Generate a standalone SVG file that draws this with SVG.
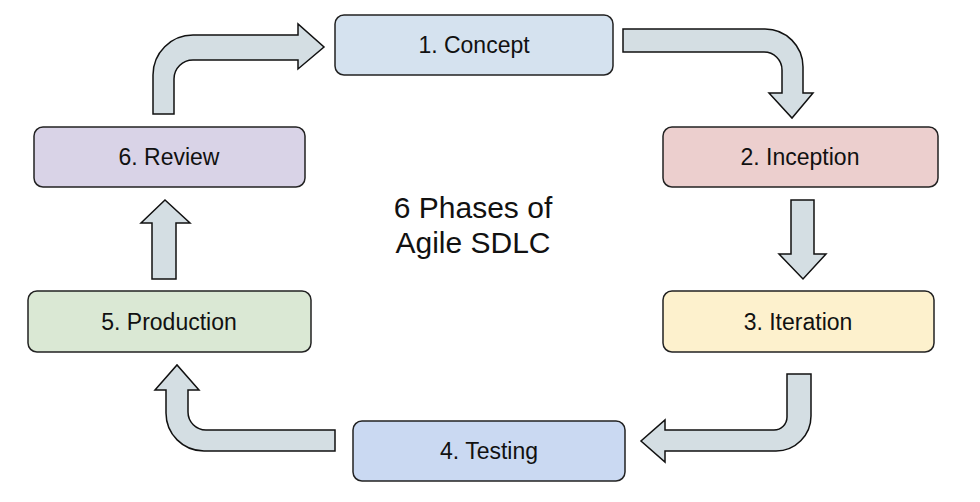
<svg xmlns="http://www.w3.org/2000/svg" width="980" height="502" viewBox="0 0 980 502">
<style>
.box{stroke:#222;stroke-width:1.5}
.lbl{font-family:"Liberation Sans",Arial,sans-serif;font-size:23px;fill:#111;text-anchor:middle}
.arr{fill:#d4dee3;stroke:#111;stroke-width:1.5;stroke-linejoin:miter}
.title{font-family:"Liberation Sans",Arial,sans-serif;font-size:30px;fill:#111;text-anchor:middle}
</style>
<rect width="980" height="502" fill="#fff"/>
<g id="connectors">
<path class="arr" d="M153,114 L153,75 A40,40 0 0 1 193,35 L298,35 L298,24 L324,47 L298,69 L298,60 L193,60 A19,19 0 0 0 174,79 L174,114 Z"/>
<path class="arr" d="M623,29 L765,29 A38,38 0 0 1 803,67 L803,93 L813,93 L792,118 L769,93 L782,93 L782,70 A18,18 0 0 0 764,52 L623,52 Z"/>
<path class="arr" d="M791,200 L814,200 L814,254 L826,254 L803,279 L779,254 L791,254 Z"/>
<path class="arr" d="M787,374 L811,374 L811,416 A35,35 0 0 1 776,451 L665,451 L665,462 L641,441 L665,420 L665,430 L774,430 A13,13 0 0 0 787,417 Z"/>
<path class="arr" d="M335,430 L335,451 L204,451 A38,38 0 0 1 166,413 L166,390 L155,390 L177,365 L199,390 L188,390 L188,412 A18,18 0 0 0 206,430 Z"/>
<path class="arr" d="M152,279 L152,223 L141,223 L165,200 L190,223 L176,223 L176,279 Z"/>
</g>
<g id="concept">
<rect class="box" x="335" y="15" width="278" height="60" rx="9" fill="#d5e2ef"/>
<text class="lbl" x="474" y="53">1. Concept</text>
</g>
<g id="inception">
<rect class="box" x="663" y="127" width="275" height="60" rx="9" fill="#eccfce"/>
<text class="lbl" x="800" y="165">2. Inception</text>
</g>
<g id="iteration">
<rect class="box" x="663" y="291" width="271" height="61" rx="9" fill="#fdf1cd"/>
<text class="lbl" x="798" y="330">3. Iteration</text>
</g>
<g id="testing">
<rect class="box" x="353" y="421" width="272" height="60" rx="9" fill="#cad9f2"/>
<text class="lbl" x="489" y="459">4. Testing</text>
</g>
<g id="production">
<rect class="box" x="28" y="291" width="283" height="61" rx="9" fill="#dae8d4"/>
<text class="lbl" x="169" y="330">5. Production</text>
</g>
<g id="review">
<rect class="box" x="34" y="127" width="271" height="60" rx="9" fill="#d9d3e7"/>
<text class="lbl" x="169" y="165">6. Review</text>
</g>
<g id="title">
<text class="title" x="473" y="218">6 Phases of</text>
<text class="title" x="473" y="253">Agile SDLC</text>
</g>
</svg>
